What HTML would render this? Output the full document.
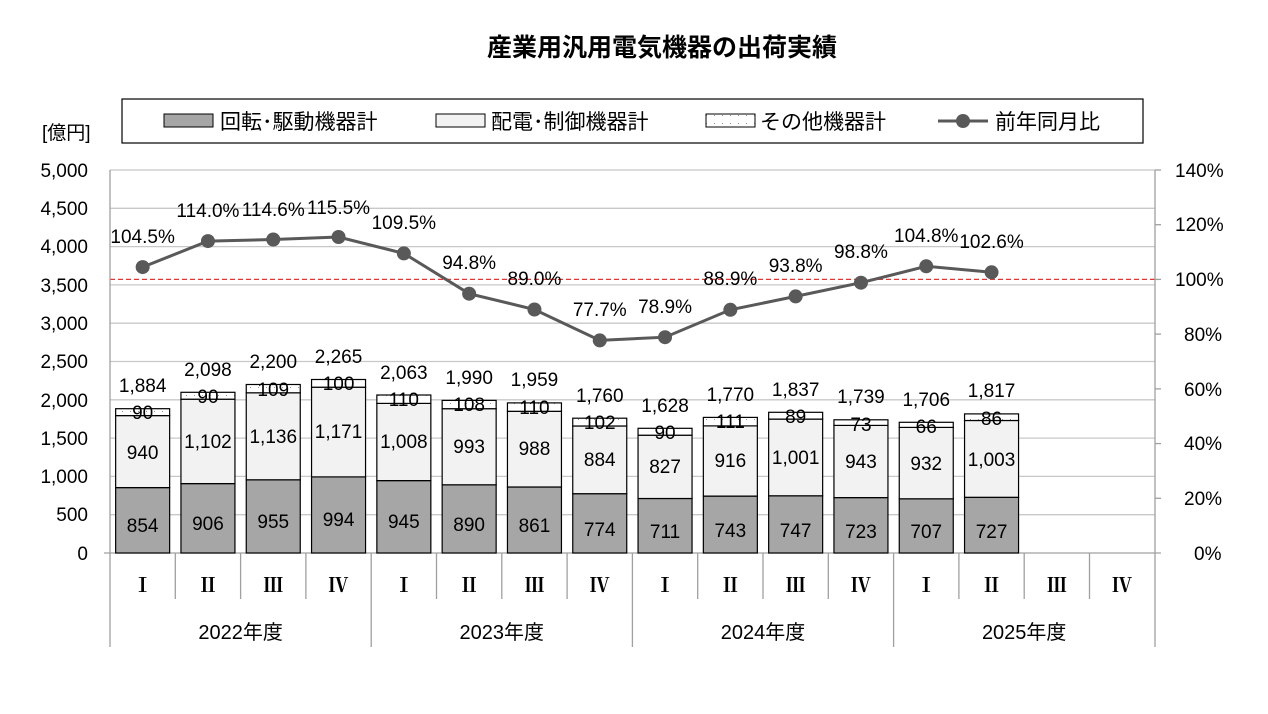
<!DOCTYPE html>
<html><head><meta charset="utf-8"><style>
body{margin:0;background:#fff}
svg{display:block;font-family:"Liberation Sans","Noto Sans CJK JP",sans-serif}
</style></head><body>
<svg width="1268" height="714" viewBox="0 0 1268 714">
<defs><pattern id="dt" width="8" height="8" patternUnits="userSpaceOnUse"><rect width="8" height="8" fill="#fff"/><rect x="2" y="3" width="1" height="1" fill="#999"/></pattern></defs>
<text x="662" y="56" text-anchor="middle" font-size="25" font-weight="bold" fill="#000">産業用汎用電気機器の出荷実績</text>
<!-- legend -->
<rect x="122" y="99" width="1021" height="44" fill="#fff" stroke="#000" stroke-width="1.2"/>
<rect x="164" y="114" width="49" height="13" fill="#a6a6a6" stroke="#000"/>
<text x="220" y="129" font-size="21">回転･駆動機器計</text>
<rect x="436" y="114" width="49" height="13" fill="#f2f2f2" stroke="#000"/>
<text x="491" y="129" font-size="21">配電･制御機器計</text>
<rect x="706" y="114" width="49" height="13" fill="url(#dt)" stroke="#000"/>
<text x="760" y="129" font-size="21">その他機器計</text>
<line x1="938" y1="121" x2="988" y2="121" stroke="#595959" stroke-width="3"/>
<circle cx="963" cy="121" r="7" fill="#595959"/>
<text x="995" y="129" font-size="21">前年同月比</text>
<text x="42" y="139" font-size="19">[億円]</text>
<!-- grid -->
<g stroke="#c8c8c8" stroke-width="1.3">
<line x1="110" y1="170" x2="1155" y2="170"/><line x1="110" y1="208.3" x2="1155" y2="208.3"/><line x1="110" y1="246.6" x2="1155" y2="246.6"/><line x1="110" y1="284.9" x2="1155" y2="284.9"/><line x1="110" y1="323.2" x2="1155" y2="323.2"/><line x1="110" y1="361.5" x2="1155" y2="361.5"/><line x1="110" y1="399.8" x2="1155" y2="399.8"/><line x1="110" y1="438.1" x2="1155" y2="438.1"/><line x1="110" y1="476.4" x2="1155" y2="476.4"/><line x1="110" y1="514.7" x2="1155" y2="514.7"/>
</g>
<line x1="110" y1="279.4" x2="1155" y2="279.4" stroke="#ee3030" stroke-dasharray="5,3" stroke-width="1.2"/>
<!-- axes -->
<g stroke="#a0a0a0" stroke-width="1.3">
<line x1="110" y1="170" x2="110" y2="647"/><line x1="1155" y1="170" x2="1155" y2="647"/>
<line x1="104" y1="553" x2="1161" y2="553"/>
<line x1="1155" y1="170" x2="1161" y2="170"/><line x1="1155" y1="224.7" x2="1161" y2="224.7"/><line x1="1155" y1="279.4" x2="1161" y2="279.4"/><line x1="1155" y1="334.1" x2="1161" y2="334.1"/><line x1="1155" y1="388.9" x2="1161" y2="388.9"/><line x1="1155" y1="443.6" x2="1161" y2="443.6"/><line x1="1155" y1="498.3" x2="1161" y2="498.3"/>
<line x1="175.3" y1="553" x2="175.3" y2="599"/><line x1="240.6" y1="553" x2="240.6" y2="599"/><line x1="305.9" y1="553" x2="305.9" y2="599"/><line x1="371.2" y1="553" x2="371.2" y2="647"/>
<line x1="436.5" y1="553" x2="436.5" y2="599"/><line x1="501.8" y1="553" x2="501.8" y2="599"/><line x1="567.1" y1="553" x2="567.1" y2="599"/><line x1="632.4" y1="553" x2="632.4" y2="647"/>
<line x1="697.7" y1="553" x2="697.7" y2="599"/><line x1="763" y1="553" x2="763" y2="599"/><line x1="828.3" y1="553" x2="828.3" y2="599"/><line x1="893.6" y1="553" x2="893.6" y2="647"/>
<line x1="958.9" y1="553" x2="958.9" y2="599"/><line x1="1024.2" y1="553" x2="1024.2" y2="599"/><line x1="1089.5" y1="553" x2="1089.5" y2="599"/>
</g>
<g font-size="19" text-anchor="end">
<text x="88" y="177">5,000</text><text x="88" y="215">4,500</text><text x="88" y="253">4,000</text><text x="88" y="292">3,500</text><text x="88" y="330">3,000</text><text x="88" y="368">2,500</text><text x="88" y="407">2,000</text><text x="88" y="445">1,500</text><text x="88" y="483">1,000</text><text x="88" y="521">500</text><text x="88" y="560">0</text>
</g>
<g font-size="19">
<text x="1175" y="177">140%</text><text x="1175" y="231">120%</text><text x="1175" y="286">100%</text><text x="1184" y="341">80%</text><text x="1184" y="396">60%</text><text x="1184" y="450">40%</text><text x="1184" y="505">20%</text><text x="1194" y="560">0%</text>
</g>
<g font-size="20" text-anchor="middle" font-family="Liberation Serif,'Noto Serif CJK SC',serif" font-weight="bold">
<text x="142.65" y="592">Ⅰ</text><text x="207.95" y="592">Ⅱ</text><text x="273.25" y="592">Ⅲ</text><text x="338.55" y="592">Ⅳ</text>
<text x="403.85" y="592">Ⅰ</text><text x="469.15" y="592">Ⅱ</text><text x="534.45" y="592">Ⅲ</text><text x="599.75" y="592">Ⅳ</text>
<text x="665.05" y="592">Ⅰ</text><text x="730.35" y="592">Ⅱ</text><text x="795.65" y="592">Ⅲ</text><text x="860.95" y="592">Ⅳ</text>
<text x="926.25" y="592">Ⅰ</text><text x="991.55" y="592">Ⅱ</text><text x="1056.85" y="592">Ⅲ</text><text x="1122.15" y="592">Ⅳ</text>
</g>
<g font-size="20" text-anchor="middle">
<text x="240.6" y="639">2022年度</text><text x="501.8" y="639">2023年度</text><text x="763" y="639">2024年度</text><text x="1024.2" y="639">2025年度</text>
</g>
<!-- bars -->
<g stroke="#000" stroke-width="1.2">
<rect x="115.65" y="487.6" width="54" height="65.4" fill="#a6a6a6"/><rect x="115.65" y="415.6" width="54" height="72" fill="#f2f2f2"/><rect x="115.65" y="408.7" width="54" height="6.9" fill="url(#dt)"/>
<rect x="180.95" y="483.6" width="54" height="69.4" fill="#a6a6a6"/><rect x="180.95" y="399.2" width="54" height="84.4" fill="#f2f2f2"/><rect x="180.95" y="392.3" width="54" height="6.9" fill="url(#dt)"/>
<rect x="246.25" y="479.8" width="54" height="73.2" fill="#a6a6a6"/><rect x="246.25" y="392.8" width="54" height="87" fill="#f2f2f2"/><rect x="246.25" y="384.5" width="54" height="8.3" fill="url(#dt)"/>
<rect x="311.55" y="476.9" width="54" height="76.1" fill="#a6a6a6"/><rect x="311.55" y="387.2" width="54" height="89.7" fill="#f2f2f2"/><rect x="311.55" y="379.5" width="54" height="7.7" fill="url(#dt)"/>
<rect x="376.85" y="480.6" width="54" height="72.4" fill="#a6a6a6"/><rect x="376.85" y="403.4" width="54" height="77.2" fill="#f2f2f2"/><rect x="376.85" y="395" width="54" height="8.4" fill="url(#dt)"/>
<rect x="442.15" y="484.8" width="54" height="68.2" fill="#a6a6a6"/><rect x="442.15" y="408.7" width="54" height="76.1" fill="#f2f2f2"/><rect x="442.15" y="400.4" width="54" height="8.3" fill="url(#dt)"/>
<rect x="507.45" y="487" width="54" height="66" fill="#a6a6a6"/><rect x="507.45" y="411.3" width="54" height="75.7" fill="#f2f2f2"/><rect x="507.45" y="402.9" width="54" height="8.4" fill="url(#dt)"/>
<rect x="572.75" y="493.7" width="54" height="59.3" fill="#a6a6a6"/><rect x="572.75" y="426" width="54" height="67.7" fill="#f2f2f2"/><rect x="572.75" y="418.2" width="54" height="7.8" fill="url(#dt)"/>
<rect x="638.05" y="498.5" width="54" height="54.5" fill="#a6a6a6"/><rect x="638.05" y="435.2" width="54" height="63.3" fill="#f2f2f2"/><rect x="638.05" y="428.3" width="54" height="6.9" fill="url(#dt)"/>
<rect x="703.35" y="496.1" width="54" height="56.9" fill="#a6a6a6"/><rect x="703.35" y="425.9" width="54" height="70.2" fill="#f2f2f2"/><rect x="703.35" y="417.4" width="54" height="8.5" fill="url(#dt)"/>
<rect x="768.65" y="495.8" width="54" height="57.2" fill="#a6a6a6"/><rect x="768.65" y="419.1" width="54" height="76.7" fill="#f2f2f2"/><rect x="768.65" y="412.3" width="54" height="6.8" fill="url(#dt)"/>
<rect x="833.95" y="497.6" width="54" height="55.4" fill="#a6a6a6"/><rect x="833.95" y="425.4" width="54" height="72.2" fill="#f2f2f2"/><rect x="833.95" y="419.8" width="54" height="5.6" fill="url(#dt)"/>
<rect x="899.25" y="498.8" width="54" height="54.2" fill="#a6a6a6"/><rect x="899.25" y="427.4" width="54" height="71.4" fill="#f2f2f2"/><rect x="899.25" y="422.3" width="54" height="5.1" fill="url(#dt)"/>
<rect x="964.55" y="497.3" width="54" height="55.7" fill="#a6a6a6"/><rect x="964.55" y="420.5" width="54" height="76.8" fill="#f2f2f2"/><rect x="964.55" y="413.9" width="54" height="6.6" fill="url(#dt)"/>
</g>
<g font-size="19" text-anchor="middle">
<text x="142.65" y="532">854</text><text x="142.65" y="459">940</text><text x="142.65" y="419">90</text><text x="142.65" y="392">1,884</text>
<text x="207.95" y="530">906</text><text x="207.95" y="448">1,102</text><text x="207.95" y="403">90</text><text x="207.95" y="376">2,098</text>
<text x="273.25" y="528">955</text><text x="273.25" y="443">1,136</text><text x="273.25" y="396">109</text><text x="273.25" y="368">2,200</text>
<text x="338.55" y="526">994</text><text x="338.55" y="438">1,171</text><text x="338.55" y="390">100</text><text x="338.55" y="363">2,265</text>
<text x="403.85" y="528">945</text><text x="403.85" y="448">1,008</text><text x="403.85" y="406">110</text><text x="403.85" y="379">2,063</text>
<text x="469.15" y="531">890</text><text x="469.15" y="453">993</text><text x="469.15" y="411">108</text><text x="469.15" y="384">1,990</text>
<text x="534.45" y="532">861</text><text x="534.45" y="455">988</text><text x="534.45" y="414">110</text><text x="534.45" y="386">1,959</text>
<text x="599.75" y="536">774</text><text x="599.75" y="466">884</text><text x="599.75" y="429">102</text><text x="599.75" y="402">1,760</text>
<text x="665.05" y="538">711</text><text x="665.05" y="473">827</text><text x="665.05" y="439">90</text><text x="665.05" y="412">1,628</text>
<text x="730.35" y="537">743</text><text x="730.35" y="467">916</text><text x="730.35" y="428">111</text><text x="730.35" y="401">1,770</text>
<text x="795.65" y="537">747</text><text x="795.65" y="464">1,001</text><text x="795.65" y="423">89</text><text x="795.65" y="396">1,837</text>
<text x="860.95" y="538">723</text><text x="860.95" y="468">943</text><text x="860.95" y="431">73</text><text x="860.95" y="403">1,739</text>
<text x="926.25" y="538">707</text><text x="926.25" y="470">932</text><text x="926.25" y="433">66</text><text x="926.25" y="406">1,706</text>
<text x="991.55" y="538">727</text><text x="991.55" y="466">1,003</text><text x="991.55" y="425">86</text><text x="991.55" y="397">1,817</text>
</g>
<!-- line -->
<polyline fill="none" stroke="#595959" stroke-width="3" points="142.65,267.1 207.95,241.1 273.25,239.5 338.55,237 403.85,253.4 469.15,293.7 534.45,309.5 599.75,340.4 665.05,337.2 730.35,309.8 795.65,296.4 860.95,282.7 926.25,266.3 991.55,272.3"/>
<g fill="#595959">
<circle cx="142.65" cy="267.1" r="7"/><circle cx="207.95" cy="241.1" r="7"/><circle cx="273.25" cy="239.5" r="7"/><circle cx="338.55" cy="237" r="7"/><circle cx="403.85" cy="253.4" r="7"/><circle cx="469.15" cy="293.7" r="7"/><circle cx="534.45" cy="309.5" r="7"/><circle cx="599.75" cy="340.4" r="7"/><circle cx="665.05" cy="337.2" r="7"/><circle cx="730.35" cy="309.8" r="7"/><circle cx="795.65" cy="296.4" r="7"/><circle cx="860.95" cy="282.7" r="7"/><circle cx="926.25" cy="266.3" r="7"/><circle cx="991.55" cy="272.3" r="7"/>
</g>
<g font-size="19" text-anchor="middle">
<text x="142.65" y="243">104.5%</text><text x="207.95" y="217">114.0%</text><text x="273.25" y="216">114.6%</text><text x="338.55" y="214">115.5%</text><text x="403.85" y="229">109.5%</text><text x="469.15" y="269">94.8%</text><text x="534.45" y="285">89.0%</text><text x="599.75" y="316">77.7%</text><text x="665.05" y="313">78.9%</text><text x="730.35" y="285">88.9%</text><text x="795.65" y="272">93.8%</text><text x="860.95" y="258">98.8%</text><text x="926.25" y="242">104.8%</text><text x="991.55" y="248">102.6%</text>
</g>
</svg>
</body></html>
